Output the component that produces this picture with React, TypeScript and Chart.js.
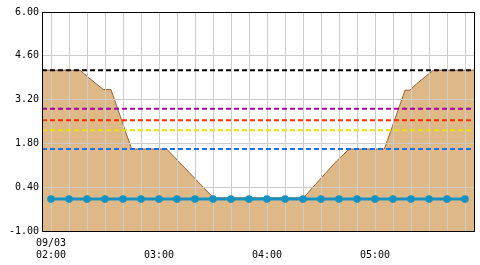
import React, { useEffect, useRef } from "react";
import { Chart, registerables } from "chart.js";

Chart.register(...registerables);

const timeLabels = [
  "02:00", "02:10", "02:20", "02:30", "02:40", "02:50",
  "03:00", "03:10", "03:20", "03:30", "03:40", "03:50",
  "04:00", "04:10", "04:20", "04:30", "04:40", "04:50",
  "05:00", "05:10", "05:20", "05:30", "05:40", "05:50",
];
const dateLabel = "09/03";

const waterLevel = [
  0.02, 0.02, 0.02, 0.02, 0.02, 0.02,
  0.02, 0.02, 0.02, 0.02, 0.02, 0.02,
  0.02, 0.02, 0.02, 0.02, 0.02, 0.02,
  0.02, 0.02, 0.02, 0.02, 0.02, 0.02,
];

// cross-section profile (x in minutes from 02:00, y in m)
const sectionX = [-5, 16.1, 20.7, 29.1, 33.3, 44.8, 64.3, 90.2, 140.2, 158.7, 165.7, 185.2, 196.7, 199.4, 203.2, 212.4, 235];
const sectionY = [4.14, 4.14, 3.91, 3.52, 3.52, 1.62, 1.62, 0.06, 0.06, 1.24, 1.62, 1.62, 3.5, 3.5, 3.71, 4.14, 4.14];

const refLevels = [4.14, 2.91, 2.54, 2.22, 1.62];
const refColors = ["#000000", "#a000a0", "#ff3300", "#eee000", "#1a6ee8"];

const yTickValues = [-1.0, 0.4, 1.8, 3.2, 4.6, 6.0];
const xMin = -5;
const xMax = 235;

const FONT = { family: "'DejaVu Sans Mono', monospace", size: 10 };

export default function App() {
  const ref = useRef<HTMLCanvasElement | null>(null);

  useEffect(() => {
    if (!ref.current) return;
    const fillIndex = refLevels.length + 1;
    const datasets: any[] = [];
    datasets.push({
      type: "line",
      data: waterLevel,
      xAxisID: "x",
      borderColor: "#1592c2",
      backgroundColor: "#1592c2",
      borderWidth: 3,
      pointRadius: 3.8,
      pointBorderWidth: 0,
      pointBackgroundColor: "#1592c2",
      fill: false,
      order: 0,
    });
    refLevels.forEach((v, i) => {
      datasets.push({
        type: "line",
        xAxisID: "x2",
        data: [
          { x: xMin, y: v },
          { x: xMax, y: v },
        ],
        borderColor: refColors[i],
        borderWidth: 2,
        borderDash: [5, 3],
        pointRadius: 0,
        fill: false,
        order: 1 + i,
      });
    });
    datasets.push({
      type: "line",
      xAxisID: "x2",
      data: sectionX.map((x, i) => ({ x, y: sectionY[i] })),
      borderColor: "#9a6232",
      borderWidth: 1,
      backgroundColor: "#deb887",
      pointRadius: 0,
      fill: "start",
      tension: 0,
      order: 10,
    });

    const gridOverFill = {
      id: "gridOverFill",
      afterDatasetDraw(chart: any, args: any) {
        if (args.index !== fillIndex) return;
        const ctx = chart.ctx;
        const a = chart.chartArea;
        ctx.save();
        ctx.beginPath();
        ctx.rect(a.left, a.top, a.right - a.left, a.bottom - a.top);
        ctx.clip();
        chart.scales.x.drawGrid(a);
        chart.scales.y.drawGrid(a);
        ctx.restore();
      },
      afterDraw(chart: any) {
        const ctx = chart.ctx;
        const a = chart.chartArea;
        ctx.save();
        ctx.strokeStyle = "#000";
        ctx.lineWidth = 1;
        const l = Math.round(a.left) + 0.5;
        const t = Math.round(a.top) + 0.5;
        const r = Math.round(a.right) + 0.5;
        const b = Math.round(a.bottom) + 0.5;
        ctx.strokeRect(l, t, r - l, b - t);
        ctx.restore();
      },
    };

    const chart = new Chart(ref.current, {
      type: "line",
      data: { labels: timeLabels, datasets },
      options: {
        animation: false,
        responsive: false,
        devicePixelRatio: 1,
        layout: { padding: { left: 0, top: 12, right: 6, bottom: 0 } },
        plugins: { legend: { display: false }, tooltip: { enabled: false } },
        scales: {
          x: {
            type: "category",
            offset: true,
            grid: { offset: false, color: "#cccccc", lineWidth: 1, drawTicks: false },
            border: { display: false },
            ticks: {
              autoSkip: false,
              maxRotation: 0,
              minRotation: 0,
              padding: 6,
              color: "#000",
              font: FONT,
              callback: (_v: any, i: number) => {
                if (i % 6 !== 0) return "";
                return [i === 0 ? dateLabel : "", timeLabels[i]];
              },
            },
            afterFit: (s: any) => {
              s.height = 34;
            },
          },
          x2: {
            type: "linear",
            display: false,
            min: xMin,
            max: xMax,
          },
          y: {
            type: "linear",
            min: -1,
            max: 6,
            grid: { color: "#cccccc", lineWidth: 1, drawTicks: false },
            border: { display: false },
            ticks: {
              padding: 3,
              color: "#000",
              font: FONT,
              callback: (v: any) => Number(v).toFixed(2),
            },
            afterBuildTicks: (s: any) => {
              s.ticks = yTickValues.map((v) => ({ value: v }));
            },
            afterFit: (s: any) => {
              s.width = 42;
            },
          },
        },
      },
      plugins: [gridOverFill],
    });
    return () => chart.destroy();
  }, []);

  return (
    <div style={{ position: "fixed", left: 0, top: 0, width: 480, height: 265, background: "#fff" }}>
      <canvas ref={ref} width={480} height={265} style={{ display: "block" }} />
    </div>
  );
}
